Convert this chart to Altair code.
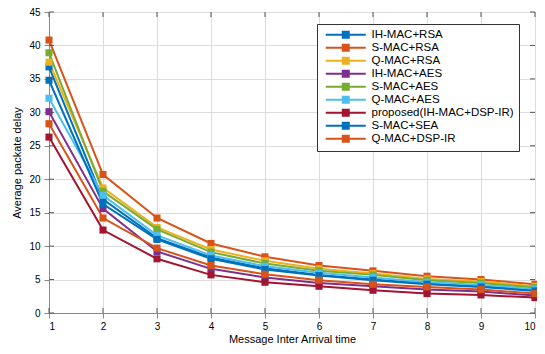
import altair as alt
import pandas as pd

x_vals = [1, 2, 3, 4, 5, 6, 7, 8, 9, 10]
series_names = [
    "IH-MAC+RSA", "S-MAC+RSA", "Q-MAC+RSA", "IH-MAC+AES", "S-MAC+AES",
    "Q-MAC+AES", "proposed(IH-MAC+DSP-IR)", "S-MAC+SEA", "Q-MAC+DSP-IR",
]
ih_mac_rsa = [36.8, 17.0, 11.2, 8.3, 6.7, 5.7, 5.0, 4.4, 4.0, 3.4]
s_mac_rsa = [40.8, 20.7, 14.2, 10.4, 8.4, 7.1, 6.3, 5.5, 5.0, 4.3]
q_mac_rsa = [37.5, 18.7, 12.8, 9.5, 7.8, 6.6, 5.9, 5.1, 4.7, 4.0]
ih_mac_aes = [30.1, 15.6, 9.2, 6.6, 5.3, 4.5, 4.0, 3.5, 3.2, 2.6]
s_mac_aes = [38.9, 18.2, 12.5, 9.1, 7.4, 6.3, 5.7, 4.9, 4.5, 3.8]
q_mac_aes = [32.1, 17.6, 11.6, 8.6, 7.0, 6.0, 5.3, 4.6, 4.2, 3.6]
proposed = [26.3, 12.4, 8.1, 5.7, 4.6, 4.0, 3.4, 2.9, 2.7, 2.3]
s_mac_sea = [34.8, 16.3, 11.0, 8.1, 6.5, 5.6, 4.9, 4.3, 3.9, 3.3]
q_mac_dsp = [28.3, 14.2, 9.7, 7.1, 5.8, 4.9, 4.3, 3.9, 3.5, 2.9]
colors = ["#0072BD", "#D95319", "#EDB120", "#7E2F8E", "#77AC30",
          "#4DBEEE", "#A2142F", "#0072BD", "#D95319"]
x_ticks = x_vals
y_ticks = [0, 5, 10, 15, 20, 25, 30, 35, 40, 45]

all_series = [ih_mac_rsa, s_mac_rsa, q_mac_rsa, ih_mac_aes, s_mac_aes,
              q_mac_aes, proposed, s_mac_sea, q_mac_dsp]
rows = []
for i, (name, vals) in enumerate(zip(series_names, all_series)):
    for xv, yv in zip(x_vals, vals):
        rows.append({"series": name, "order": i, "x": xv, "y": yv})
df = pd.DataFrame(rows)

W, H = 486, 301
FONT = "Liberation Sans"

xs = alt.Scale(domain=[1, 10], nice=False, zero=False)
ys = alt.Scale(domain=[0, 45], nice=False, zero=False)

x_axis = alt.Axis(values=x_ticks, title="Message Inter Arrival time", grid=True,
                  format="d", labelPadding=3, titlePadding=2,
                  titleFontWeight="normal", labelOverlap=False)
y_axis = alt.Axis(values=y_ticks, title="Average packate delay", grid=True,
                  labelPadding=4, titlePadding=6, titleFontWeight="normal",
                  labelOverlap=False)

color = alt.Color(
    "series:N",
    scale=alt.Scale(domain=series_names, range=colors),
    sort=series_names,
    legend=alt.Legend(
        title=None, orient="none", legendX=268, legendY=12,
        symbolType="M-5,0H5M-0.75,-0.75H0.75V0.75H-0.75Z",
        symbolSize=64, symbolStrokeWidth=2, symbolOffset=18,
        labelOffset=20, labelFont=FONT, labelFontSize=11.5, labelColor="#000",
        strokeColor="#333", fillColor="white", padding=5, rowPadding=-5,
        labelLimit=300,
    ),
)

lines = alt.Chart(df).mark_line(
    strokeWidth=2,
    point=alt.OverlayMarkDef(filled=True, shape="square", size=50, opacity=1),
).encode(
    x=alt.X("x:Q", scale=xs, axis=x_axis),
    y=alt.Y("y:Q", scale=ys, axis=y_axis),
    color=color,
    order=alt.Order("order:Q"),
    detail="series:N",
)

tick_x = pd.DataFrame({"t": x_ticks})
tick_y = pd.DataFrame({"t": y_ticks})
bot = alt.Chart(tick_x).mark_rule(color="#555", strokeWidth=1).encode(
    x=alt.X("t:Q", scale=xs, axis=x_axis), y=alt.value(H), y2=alt.value(H - 5))
top = alt.Chart(tick_x).mark_rule(color="#555", strokeWidth=1).encode(
    x=alt.X("t:Q", scale=xs, axis=x_axis), y=alt.value(0), y2=alt.value(5))
left = alt.Chart(tick_y).mark_rule(color="#555", strokeWidth=1).encode(
    y=alt.Y("t:Q", scale=ys, axis=y_axis), x=alt.value(0), x2=alt.value(5))
right = alt.Chart(tick_y).mark_rule(color="#555", strokeWidth=1).encode(
    y=alt.Y("t:Q", scale=ys, axis=y_axis), x=alt.value(W), x2=alt.value(W - 5))

chart = alt.layer(lines, bot, top, left, right).properties(
    width=W, height=H,
    autosize=alt.AutoSizeParams(type="none"),
    padding={"left": 41, "top": 4, "right": 2, "bottom": 33},
).configure_view(
    stroke="#555", strokeWidth=1.2,
).configure_axis(
    domain=False, ticks=False, gridColor="#e3e3e3", gridWidth=1,
    labelFont=FONT, labelFontSize=12, labelColor="#222",
    titleFont=FONT, titleFontSize=12, titleFontWeight="normal", titleColor="#111",
).configure(background="white")

chart.save("out.html", embed_options={"renderer": "svg", "actions": False})
